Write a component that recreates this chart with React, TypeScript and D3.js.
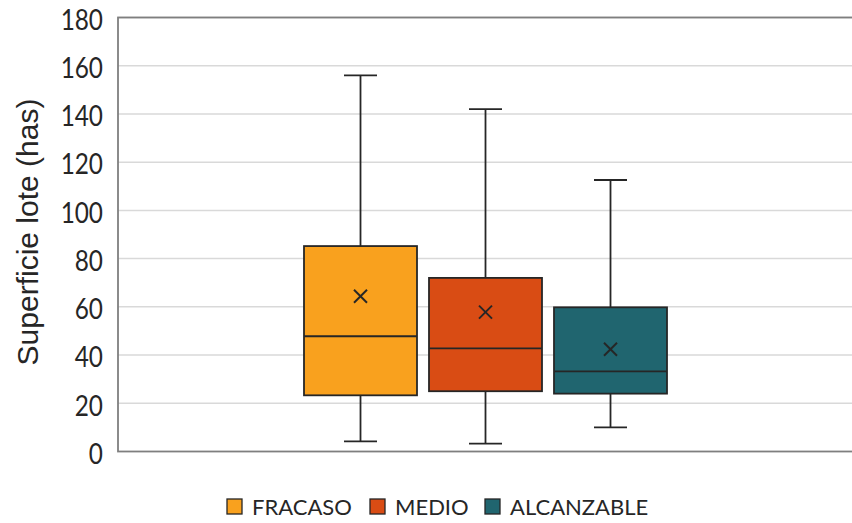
import React from "react";
import * as d3 from "d3";

const categories = ["FRACASO", "MEDIO", "ALCANZABLE"];
const colors = ["#F9A11E", "#D94C14", "#20656F"];
const whiskerLow = [4.2, 3.3, 10];
const q1 = [23.3, 25, 24];
const median = [47.8, 42.8, 33.2];
const q3 = [85.2, 72, 59.8];
const whiskerHigh = [156, 142, 112.6];
const means = [64.4, 57.8, 42.4];
const yTicks = [0, 20, 40, 60, 80, 100, 120, 140, 160, 180];
const yTitle = "Superficie lote (has)";

const W = 852;
const H = 523;
const left = 118;
const right = 856;
const top = 17.5;
const bottom = 451.5;

export default function App() {
  const y = d3.scaleLinear().domain([0, 180]).range([bottom, top]);
  const x = d3.scaleBand<string>().domain(categories).range([298, 673]).paddingInner(0.096).paddingOuter(0.048);
  const bw = x.bandwidth();
  const cap = 33;
  const m = 6.5;
  const legendX = [227, 370, 485];
  return (
    <svg width={W} height={H} style={{ position: "absolute", left: 0, top: 0, background: "#fff" }}>
      <rect x={0} y={0} width={W} height={H} fill="#fff" />
      {yTicks.slice(1).map((t) => (
        <line key={t} x1={left} x2={right} y1={y(t)} y2={y(t)} stroke="#d9d9d9" strokeWidth={1.5} />
      ))}
      <rect x={left} y={top} width={right - left} height={bottom - top} fill="none" stroke="#7f7f7f" strokeWidth={1.8} />
      {yTicks.map((t) => (
        <text
          key={t}
          transform={`translate(103,${y(t) + 12.3}) scale(0.84,1)`}
          textAnchor="end"
          fontFamily="Lato"
          fontSize={29}
          fill="#262626"
        >
          {t}
        </text>
      ))}
      <text
        transform={`translate(37.5,232) rotate(-90)`}
        textAnchor="middle"
        fontFamily="Liberation Sans"
        fontSize={30}
        fill="#262626"
      >
        {yTitle}
      </text>
      {categories.map((c, i) => {
        const cx = (x(c) as number) + bw / 2;
        const x0 = x(c) as number;
        return (
          <g key={c} stroke="#262626" strokeWidth={1.8}>
            <line x1={cx} x2={cx} y1={y(whiskerHigh[i])} y2={y(q3[i])} />
            <line x1={cx} x2={cx} y1={y(q1[i])} y2={y(whiskerLow[i])} />
            <line x1={cx - cap / 2} x2={cx + cap / 2} y1={y(whiskerHigh[i])} y2={y(whiskerHigh[i])} />
            <line x1={cx - cap / 2} x2={cx + cap / 2} y1={y(whiskerLow[i])} y2={y(whiskerLow[i])} />
            <rect x={x0} y={y(q3[i])} width={bw} height={y(q1[i]) - y(q3[i])} fill={colors[i]} />
            <line x1={x0} x2={x0 + bw} y1={y(median[i])} y2={y(median[i])} />
            <line x1={cx - m} x2={cx + m} y1={y(means[i]) - m} y2={y(means[i]) + m} strokeWidth={2} />
            <line x1={cx - m} x2={cx + m} y1={y(means[i]) + m} y2={y(means[i]) - m} strokeWidth={2} />
          </g>
        );
      })}
      {categories.map((c, i) => (
        <g key={c}>
          <rect x={legendX[i]} y={499} width={15} height={15} fill={colors[i]} stroke="#262626" strokeWidth={1.3} />
          <text x={legendX[i] + 25} y={515} fontFamily="Lato" fontSize={22} fill="#262626">
            {c}
          </text>
        </g>
      ))}
    </svg>
  );
}
